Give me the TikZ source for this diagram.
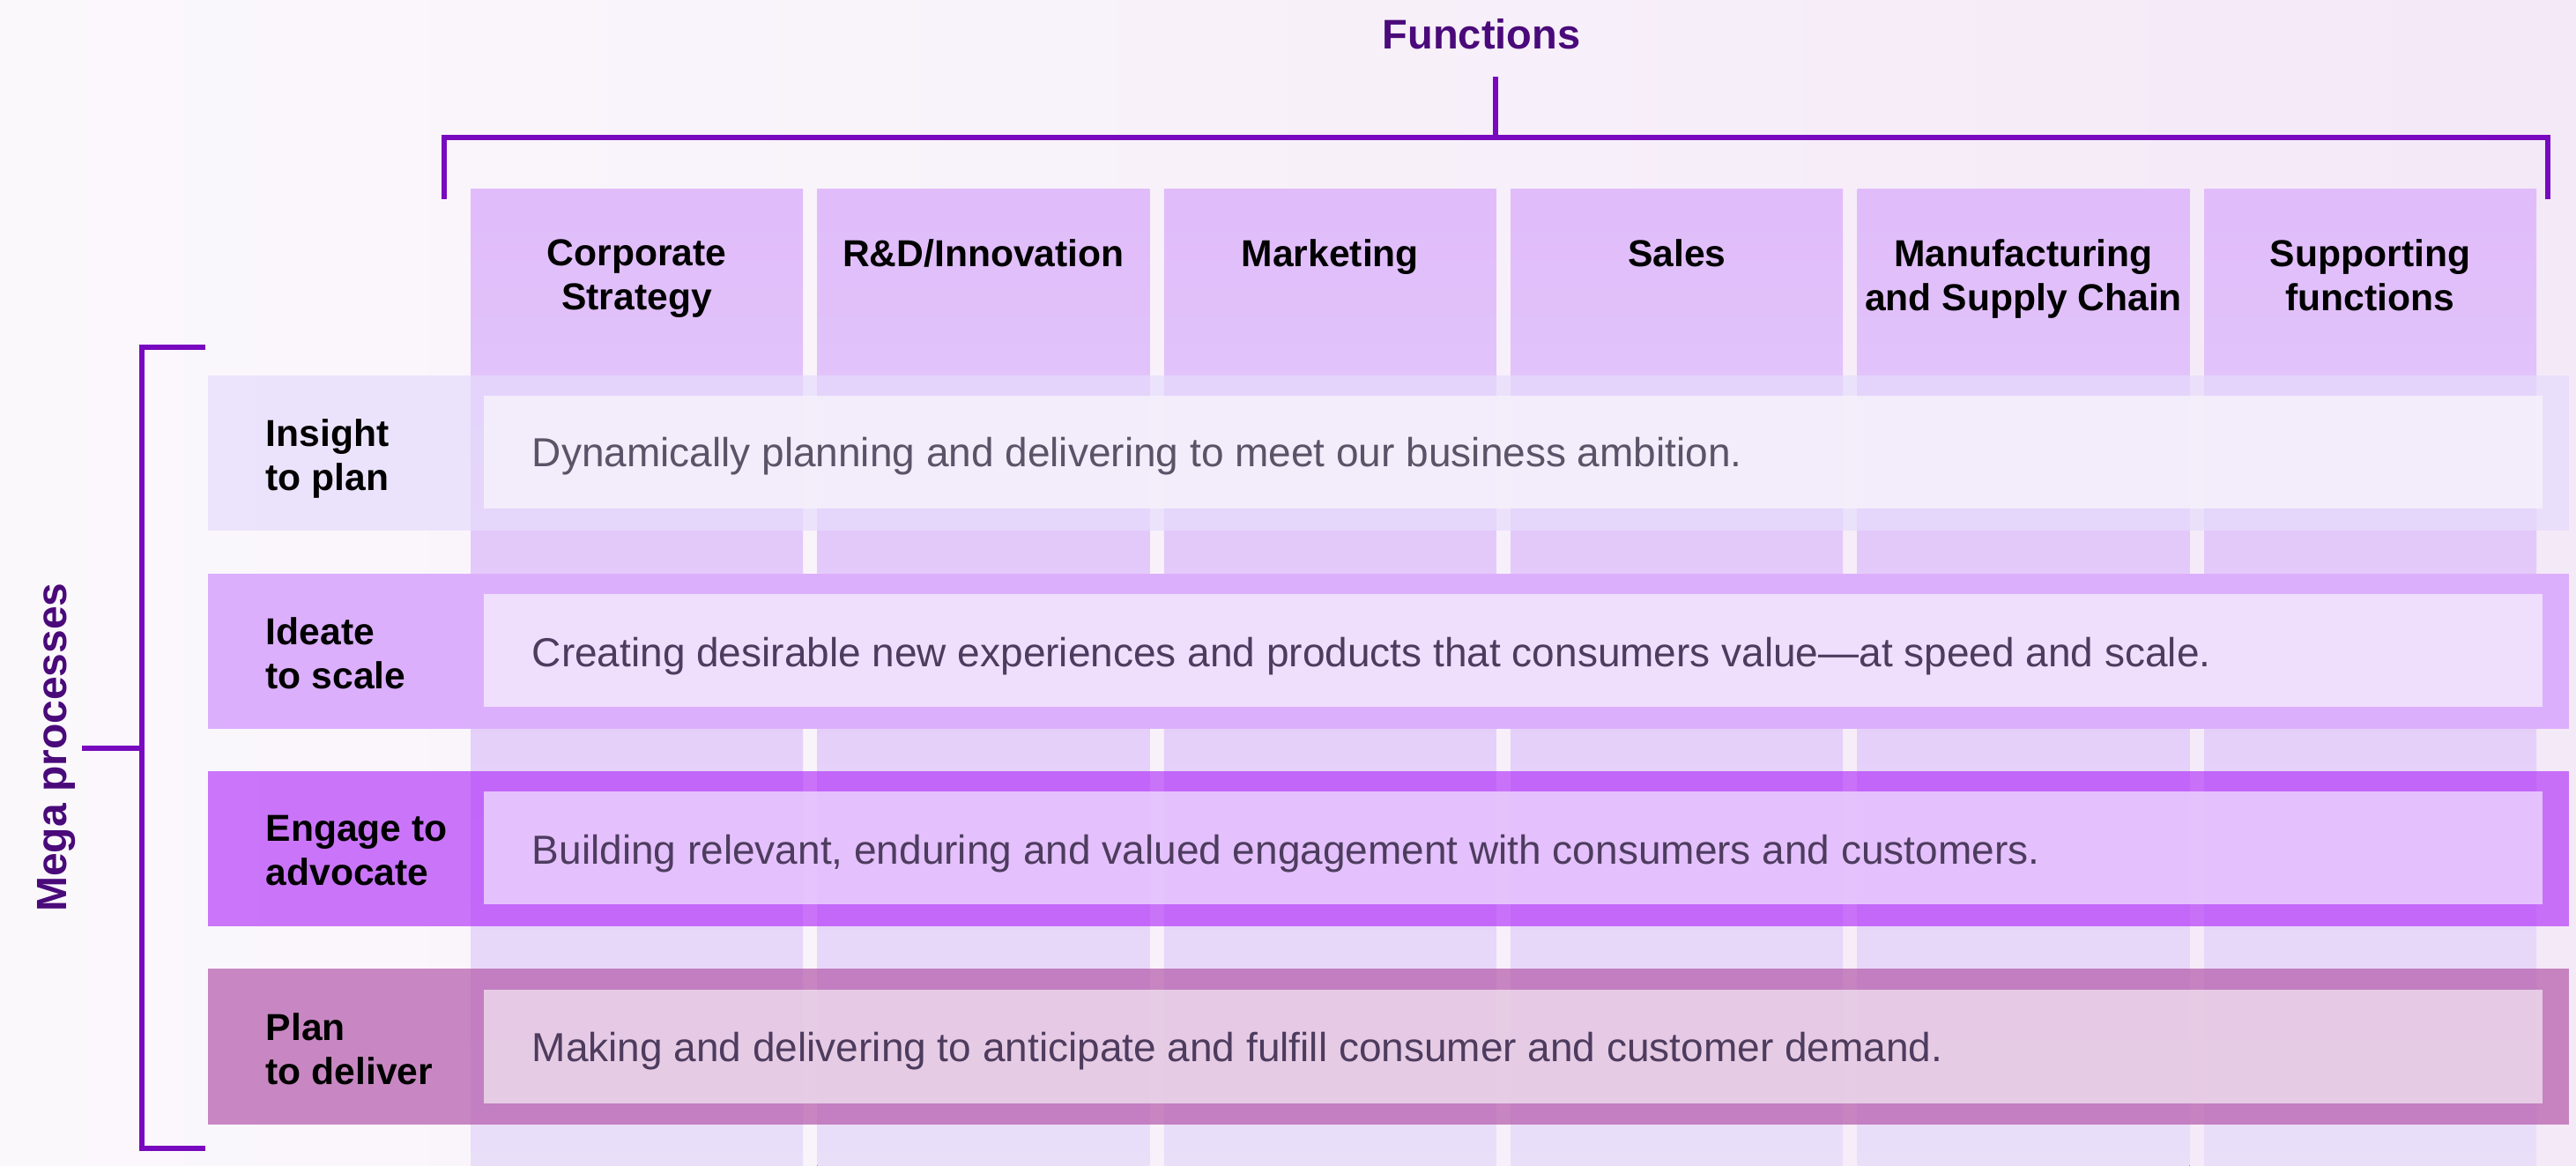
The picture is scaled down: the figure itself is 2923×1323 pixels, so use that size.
\documentclass[tikz,border=0pt]{standalone}
\usepackage{fontspec}
\setmainfont{Liberation Sans}
\definecolor{bgL}{HTML}{FBF8FC}
\definecolor{bgR}{HTML}{F4E9F7}
\definecolor{brk}{HTML}{7809BF}
\definecolor{ttl}{HTML}{4A0A7A}
\definecolor{colTop}{HTML}{E0BCFA}
\definecolor{colBot}{HTML}{E9DFF9}
\definecolor{rowA}{HTML}{E6DCFC}
\definecolor{rowB}{HTML}{DCAFFD}
\definecolor{rowC}{HTML}{AB1FF9}
\definecolor{rowD}{HTML}{B358AA}
\definecolor{inA}{HTML}{F7F2FC}
\definecolor{inB}{HTML}{F5EAFE}
\definecolor{inC}{HTML}{EDD7FD}
\definecolor{inD}{HTML}{F0DEEF}
\definecolor{descA}{HTML}{5B5468}
\definecolor{descB}{HTML}{4D3C5E}
\begin{document}
\begin{tikzpicture}[x=0.25pt,y=-0.25pt,
  bracketline/.style={draw=brk,line width=1.35pt,line cap=butt},
  colbox/.style={top color=colTop,bottom color=colBot,draw=none},
  hdr/.style={anchor=north,align=center,inner sep=0pt,text=black,
    font=\bfseries\fontsize{10.65pt}{12.5pt}\selectfont},
  lbl/.style={anchor=north west,align=left,inner sep=0pt,text=black,
    font=\bfseries\fontsize{10.65pt}{12.5pt}\selectfont},
  desc/.style={anchor=base west,inner sep=0pt,
    font=\fontsize{11.5pt}{13.8pt}\selectfont},
  ttlbl/.style={inner sep=0pt,text=ttl,font=\bfseries}]
% background
\shade[left color=bgL,right color=bgR] (0,0) rectangle (2923,1323);
\useasboundingbox (0,0) rectangle (2923,1323);
% columns
\foreach \l in {534,927.4,1320.8,1714.2,2107.6,2501}{
  \fill[colbox] (\l,215) rectangle ({\l+377},1323);
}
% column headers
\node[hdr] (c1) at (722.5,271) {Corporate\\Strategy};
\node[hdr] (c2) at (1115.9,271) {R\&D/Innovation};
\node[hdr] (c3) at (1509.3,271) {Marketing};
\node[hdr] (c4) at (1902.7,271) {Sales};
\node[hdr] (c5) at (2296.1,271) {Manufacturing\\and Supply Chain};
\node[hdr] (c6) at (2689.5,271) {Supporting\\functions};
% rows
\fill[rowA,fill opacity=0.7] (236,426) rectangle (2915,602);
\fill[inA,fill opacity=0.8] (549,449) rectangle (2885,577);
\fill[rowB] (236,651) rectangle (2915,827);
\fill[inB,fill opacity=0.8] (549,674) rectangle (2885,802);
\fill[rowC,fill opacity=0.6] (236,875) rectangle (2915,1051);
\fill[inC,fill opacity=0.8] (549,898) rectangle (2885,1026);
\fill[rowD,fill opacity=0.7] (236,1099) rectangle (2915,1276);
\fill[inD,fill opacity=0.8] (549,1123) rectangle (2885,1252);
% row labels
\node[lbl] (p1) at (301,475) {Insight\\to plan};
\node[lbl] (p2) at (301,700) {Ideate\\to scale};
\node[lbl] (p3) at (301,924) {Engage to\\advocate};
\node[lbl] (p4) at (301,1149) {Plan\\to deliver};
% descriptions
\node[desc,text=descA] (d1) at (603,530) {Dynamically planning and delivering to meet our business ambition.};
\node[desc,text=descB] (d2) at (603,757) {Creating desirable new experiences and products that consumers value—at speed and scale.};
\node[desc,text=descB] (d3) at (603,981) {Building relevant, enduring and valued engagement with consumers and customers.};
\node[desc,text=descB] (d4) at (603,1205) {Making and delivering to anticipate and fulfill consumer and customer demand.};
% top bracket
\coordinate (tl) at (504,226);
\coordinate (tr) at (2891,226);
\coordinate (tm) at (1697,156);
\coordinate (tt) at (1697,87);
\draw[bracketline] (tl) |- (tr |- tm) -- (tr);
\draw[bracketline] (tm) -- (tt);
\node[ttlbl,anchor=base,font=\bfseries\fontsize{11.75pt}{14pt}\selectfont] (fn) at (1681,56) {Functions};
% left bracket
\coordinate (lt) at (233,394);
\coordinate (lb) at (233,1303);
\coordinate (lm) at (161,849);
\coordinate (lx) at (93,849);
\draw[bracketline] (lt) -| (lm |- lb) -- (lb);
\draw[bracketline] (lm) -- (lx);
\node[ttlbl,anchor=base,rotate=90,font=\bfseries\fontsize{12pt}{14pt}\selectfont] (mp) at (75,848) {Mega processes};
\end{tikzpicture}
\end{document}
